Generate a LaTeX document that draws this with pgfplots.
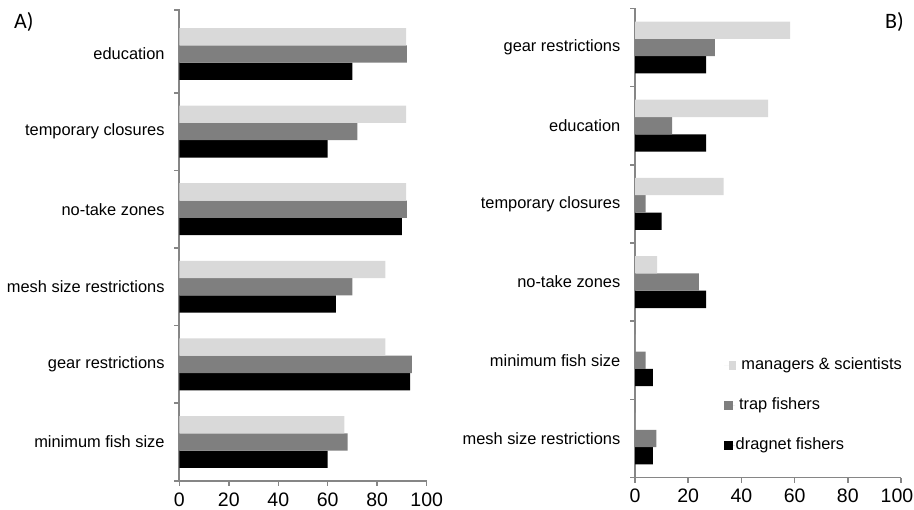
\documentclass[border=0pt]{standalone}
\usepackage{fontspec}
\setmainfont{Liberation Sans}
\newfontfamily\carlito{Carlito}
\usepackage{pgfplots}
\pgfplotsset{compat=1.18}
\definecolor{cLight}{HTML}{D9D9D9}
\definecolor{cMid}{HTML}{7F7F7F}
\definecolor{cAxis}{HTML}{868686}
\pgfplotsset{
  panel/.style={
    scale only axis,
    xbar=0pt, bar width=17.3pt,
    xmin=0, xmax=100,
    axis x line*=bottom, axis y line*=left,
    axis line style={cAxis, line width=1.8pt, -},
    xtick={0,20,...,100},
    tick align=outside,
    major tick length=5pt, minor tick length=5pt,
    every major x tick/.style={cAxis, line width=1.5pt},
    every major y tick/.style={draw=none},
    every minor y tick/.style={cAxis, line width=1.5pt},
    ytick={0,...,5},
    /pgf/number format/assume math mode=true,
    xticklabel style={font=\fontsize{19.5}{23}\selectfont, inner sep=0pt, yshift=-6.5pt},
    yticklabel style={font=\fontsize{16.4}{19}\selectfont, inner sep=0pt, xshift=-9.5pt},
    every axis plot/.append style={draw=none},
    clip=false,
  }
}
\begin{document}
\begin{tikzpicture}
\path[use as bounding box] (0,0) rectangle (914pt,510pt);
% Panel A
\begin{axis}[panel,
  at={(179.3pt,29.2pt)}, anchor=south west,
  width=247.4pt, height=471.8pt,
  ymin=-0.5, ymax=5.58,
  minor ytick={-0.5,0.5,1.5,2.5,3.5,4.5,5.57},
  yticklabels={minimum fish size, gear restrictions, mesh size restrictions, no-take zones, temporary closures, education},
]
\addplot[fill=black] coordinates {(60,0) (93.3,1) (63.3,2) (90,3) (60,4) (70,5)};
\addplot[fill=cMid] coordinates {(68,0) (94,1) (70,2) (92,3) (72,4) (92,5)};
\addplot[fill=cLight] coordinates {(66.7,0) (83.3,1) (83.3,2) (91.7,3) (91.7,4) (91.7,5)};
\end{axis}
% Panel B
\begin{axis}[panel,
  at={(635pt,32.4pt)}, anchor=south west,
  width=266pt, height=469.2pt,
  ymin=-0.5, ymax=5.5,
  minor ytick={-0.5,0.5,1.5,2.5,3.5,4.5,5.5},
  xticklabels={0,20,40,60,80,{\hspace*{-8pt}100}},
  yticklabels={mesh size restrictions, minimum fish size, no-take zones, temporary closures, education, gear restrictions},
  reverse legend,
  legend cell align=left,
  legend style={draw=none, fill=none, inner sep=0pt, outer sep=0pt,
    at={(axis cs:33.46,0.42)}, anchor=west,
    row sep=24.5pt, column sep=0pt,
    font=\fontsize{16.4}{19}\selectfont,
    nodes={inner sep=0pt, text height=12pt, text depth=3.5pt}},
]
\addplot[fill=black, legend image code/.code={\fill[black] (0pt,-4.5pt) rectangle (9pt,4.5pt); \path (0pt,0pt) -- (11pt,0pt);}] coordinates {(6.7,0) (6.7,1) (26.7,2) (10,3) (26.7,4) (26.7,5)};
\addlegendentry{dragnet fishers}
\addplot[fill=cMid, legend image code/.code={\fill[cMid] (0pt,-4.5pt) rectangle (8.7pt,4.5pt); \path (0pt,0pt) -- (11pt,0pt);}] coordinates {(8,0) (4,1) (24,2) (4,3) (14,4) (30,5)};
\addlegendentry{\hspace{3.3pt}trap fishers}
\addplot[fill=cLight, legend image code/.code={\fill[cLight] (5.3pt,-4.5pt) rectangle (11.7pt,4.5pt); \path (0pt,0pt) -- (11pt,0pt);}] coordinates {(0,0) (0,1) (8.3,2) (33.3,3) (50,4) (58.3,5)};
\addlegendentry{\hspace{5.7pt}managers \& scientists}
\end{axis}
\node[anchor=west, inner sep=0pt] at (14pt,488pt) {\carlito\fontsize{22}{26}\selectfont A)};
\node[anchor=west, inner sep=0pt] at (885pt,488.5pt) {\carlito\fontsize{22}{26}\selectfont B)};
\end{tikzpicture}
\end{document}
